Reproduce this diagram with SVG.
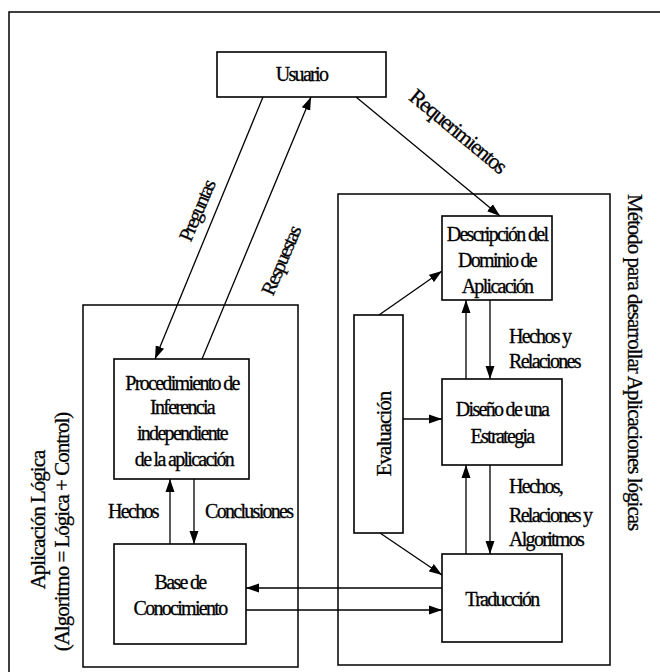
<svg xmlns="http://www.w3.org/2000/svg" width="660" height="672" viewBox="0 0 660 672">
<style>
.box{fill:#fff;stroke:#000;stroke-width:1.6}
.frame{fill:none;stroke:#000;stroke-width:1.5}
.c{fill:none;stroke:#000;stroke-width:1.3}
text{font-family:"Liberation Serif","Times New Roman",serif;font-size:20px;letter-spacing:-1.7px;fill:#000;stroke:#000;stroke-width:0.3}
.m{text-anchor:middle}
.big{font-size:21px;letter-spacing:-1px}
</style>
<defs>
<marker id="ah" markerUnits="userSpaceOnUse" markerWidth="14" markerHeight="10" refX="13" refY="5" orient="auto">
<path d="M0,0.5 L13,5 L0,9.5 z" fill="#000"/>
</marker>
</defs>
<rect width="660" height="672" fill="#fff"/>
<path class="frame" d="M9,672 V12 H660"/>
<g id="frame-aplicacion">
<rect class="frame" x="83" y="305" width="215" height="362"/>
<text class="big m" transform="translate(45,520) rotate(-90)">Aplicación Lógica</text>
<text class="big m" transform="translate(69,532) rotate(-90)">(Algoritmo = Lógica + Control)</text>
</g>
<g id="frame-metodo">
<rect class="frame" x="338" y="194" width="272" height="471"/>
<text class="big" transform="translate(628,194) rotate(90)">Método para desarrollar Aplicaciones lógicas</text>
</g>
<g id="usuario">
<rect class="box" x="217" y="52" width="169" height="45"/>
<text class="m" x="301.5" y="81">Usuario</text>
</g>
<g id="procedimiento">
<rect class="box" x="114" y="359" width="135" height="120"/>
<text class="m" x="182" y="390">Procedimiento de</text>
<text class="m" x="182" y="414">Inferencia</text>
<text class="m" x="182" y="440">independiente</text>
<text class="m" x="184" y="466">de la aplicación</text>
</g>
<g id="base">
<rect class="box" x="114" y="544" width="132" height="100"/>
<text class="m" x="180" y="589">Base de</text>
<text class="m" x="180" y="615">Conocimiento</text>
</g>
<g id="descripcion">
<rect class="box" x="442" y="216" width="110" height="84"/>
<text class="m" x="497" y="241">Descripción del</text>
<text class="m" x="497" y="267">Dominio de</text>
<text class="m" x="497" y="293">Aplicación</text>
</g>
<g id="diseno">
<rect class="box" x="442" y="379" width="120" height="86"/>
<text class="m" x="502" y="416">Diseño de una</text>
<text class="m" x="502" y="443">Estrategia</text>
</g>
<g id="traduccion">
<rect class="box" x="442" y="554" width="120" height="88"/>
<text class="m" x="502" y="606">Traducción</text>
</g>
<g id="evaluacion">
<rect class="box" x="354" y="315" width="49" height="218"/>
<text class="big m" transform="translate(391,434) rotate(-90)">Evaluación</text>
</g>
<g id="connectors">
<line class="c" x1="263" y1="97" x2="155" y2="359" marker-end="url(#ah)"/>
<line class="c" x1="202" y1="359" x2="311" y2="97" marker-end="url(#ah)"/>
<line class="c" x1="356" y1="97" x2="500" y2="216" marker-end="url(#ah)"/>
<line class="c" x1="379" y1="315" x2="442" y2="271" marker-end="url(#ah)"/>
<line class="c" x1="403" y1="419" x2="442" y2="419" marker-end="url(#ah)"/>
<line class="c" x1="380" y1="533" x2="442" y2="575" marker-end="url(#ah)"/>
<line class="c" x1="466" y1="379" x2="466" y2="300" marker-end="url(#ah)"/>
<line class="c" x1="490" y1="300" x2="490" y2="379" marker-end="url(#ah)"/>
<line class="c" x1="466" y1="554" x2="466" y2="465" marker-end="url(#ah)"/>
<line class="c" x1="490" y1="465" x2="490" y2="554" marker-end="url(#ah)"/>
<line class="c" x1="442" y1="588" x2="246" y2="588" marker-end="url(#ah)"/>
<line class="c" x1="246" y1="610" x2="442" y2="610" marker-end="url(#ah)"/>
<line class="c" x1="170" y1="544" x2="170" y2="479" marker-end="url(#ah)"/>
<line class="c" x1="194" y1="479" x2="194" y2="544" marker-end="url(#ah)"/>
<text class="m" transform="translate(197,211) rotate(-67)" dy="0.33em">Preguntas</text>
<text class="m" transform="translate(281,261) rotate(-67)" dy="0.33em">Respuestas</text>
<text class="m" transform="translate(458,131) rotate(39.6)" dy="0.33em" style="font-size:22px;letter-spacing:-1.5px">Requerimientos</text>
<text class="m" x="133" y="518">Hechos</text>
<text x="205" y="518">Conclusiones</text>
<text x="509" y="343">Hechos y</text>
<text x="509" y="368">Relaciones</text>
<text x="509" y="493">Hechos,</text>
<text x="509" y="522">Relaciones y</text>
<text x="509" y="546">Algoritmos</text>
</g>
</svg>
